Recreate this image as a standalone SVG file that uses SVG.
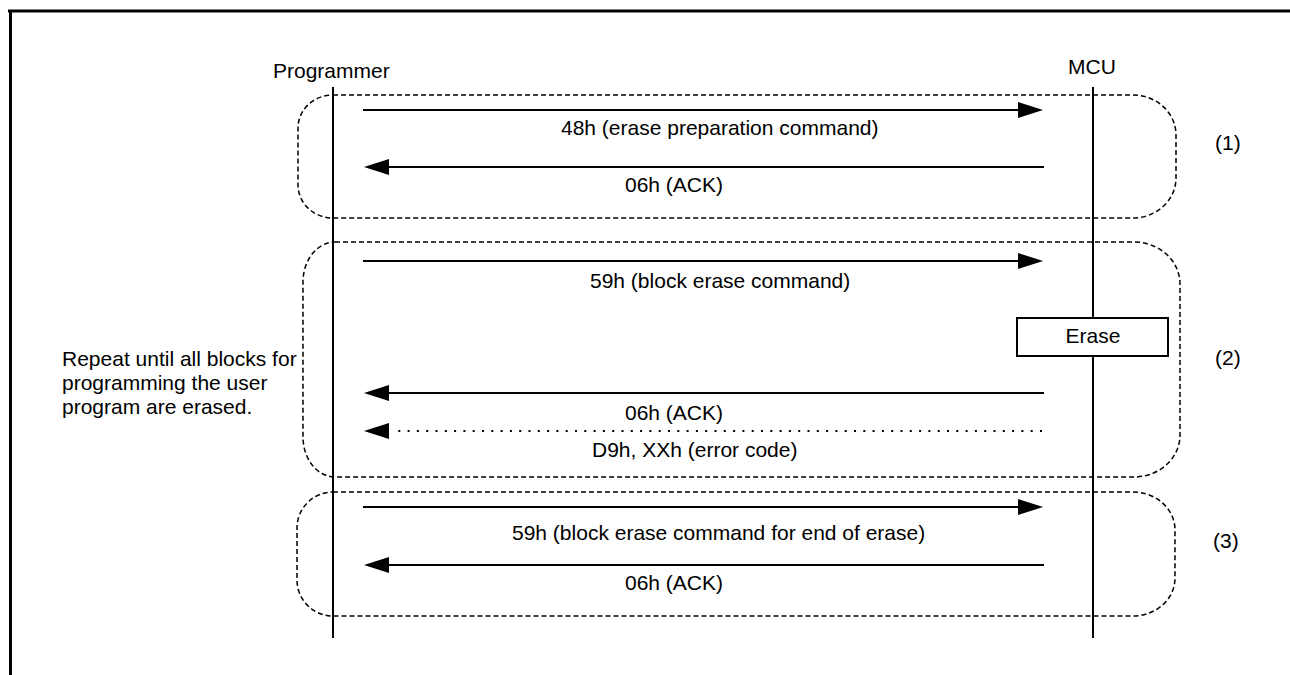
<svg xmlns="http://www.w3.org/2000/svg" width="1290" height="675" viewBox="0 0 1290 675">
<style>
text{font-family:"Liberation Sans",Arial,sans-serif;font-size:21px;fill:#000}
.life{stroke:#000;stroke-width:2;fill:none}
.grp{stroke:#000;stroke-width:1.5;fill:none;stroke-dasharray:5 3}
.msg{stroke:#000;stroke-width:2;fill:none}
.dot{stroke:#000;stroke-width:2.2;fill:none;stroke-dasharray:2 7.3}
.frame{stroke:#000;stroke-width:3;fill:none}
</style>
<defs>
<marker id="ah" markerUnits="userSpaceOnUse" markerWidth="26" markerHeight="16" refX="12" refY="8" orient="auto" overflow="visible"><path d="M0,0 L25,8 L0,16 Z" fill="#000"/></marker>
<marker id="ahd" markerUnits="userSpaceOnUse" markerWidth="26" markerHeight="16" refX="-6" refY="8" orient="auto" overflow="visible"><path d="M0,0 L25,8 L0,16 Z" fill="#000"/></marker>
</defs>
<rect width="1290" height="675" fill="#fff"/>
<g id="frame">
<line class="frame" x1="8" y1="11" x2="1290" y2="11"/>
<line class="frame" x1="10.5" y1="10" x2="10.5" y2="675"/>
</g>
<g id="group1">
<path class="grp" d="M333 95 H1133 A43 40 0 0 1 1176 135 V178 A43 40 0 0 1 1133 218 H333 A35 33 0 0 1 298 185 V128 A35 33 0 0 1 333 95 Z"/>
<text x="1215" y="150">(1)</text>
</g>
<g id="group2">
<path class="grp" d="M335 242 H1134 A46 42 0 0 1 1180 284 V435 A46 42 0 0 1 1134 477 H335 A32 40 0 0 1 303 437 V282 A32 40 0 0 1 335 242 Z"/>
<text x="1215" y="365">(2)</text>
</g>
<g id="group3">
<path class="grp" d="M333 492 H1133 A42 38 0 0 1 1175 530 V578 A42 38 0 0 1 1133 616 H333 A36 36 0 0 1 297 580 V528 A36 36 0 0 1 333 492 Z"/>
<text x="1213" y="548">(3)</text>
</g>
<g id="programmer">
<text x="273" y="78">Programmer</text>
<line class="life" x1="333" y1="87" x2="333" y2="638"/>
</g>
<g id="mcu">
<text x="1068" y="74">MCU</text>
<line class="life" x1="1093" y1="87" x2="1093" y2="638"/>
</g>
<g id="erase">
<rect x="1017" y="318" width="151" height="38" fill="#fff" stroke="#000" stroke-width="2"/>
<text x="1093" y="343" text-anchor="middle">Erase</text>
</g>
<g id="repeat-note">
<text x="62" y="366">Repeat until all blocks for</text>
<text x="62" y="390">programming the user</text>
<text x="62" y="414">program are erased.</text>
</g>
<g id="connectors">
<line class="msg" x1="363" y1="110" x2="1030" y2="110" marker-end="url(#ah)"/>
<line class="msg" x1="1044" y1="167" x2="377" y2="167" marker-end="url(#ah)"/>
<line class="msg" x1="363" y1="261" x2="1030" y2="261" marker-end="url(#ah)"/>
<line class="msg" x1="1044" y1="393" x2="377" y2="393" marker-end="url(#ah)"/>
<line class="dot" x1="1042" y1="431" x2="395" y2="431" marker-end="url(#ahd)"/>
<line class="msg" x1="363" y1="507" x2="1030" y2="507" marker-end="url(#ah)"/>
<line class="msg" x1="1044" y1="565" x2="377" y2="565" marker-end="url(#ah)"/>
</g>
<g id="labels">
<text x="561" y="135">48h (erase preparation command)</text>
<text x="625" y="192">06h (ACK)</text>
<text x="590" y="288">59h (block erase command)</text>
<text x="625" y="420">06h (ACK)</text>
<text x="592" y="457">D9h, XXh (error code)</text>
<text x="512" y="540">59h (block erase command for end of erase)</text>
<text x="625" y="590">06h (ACK)</text>
</g>
</svg>
